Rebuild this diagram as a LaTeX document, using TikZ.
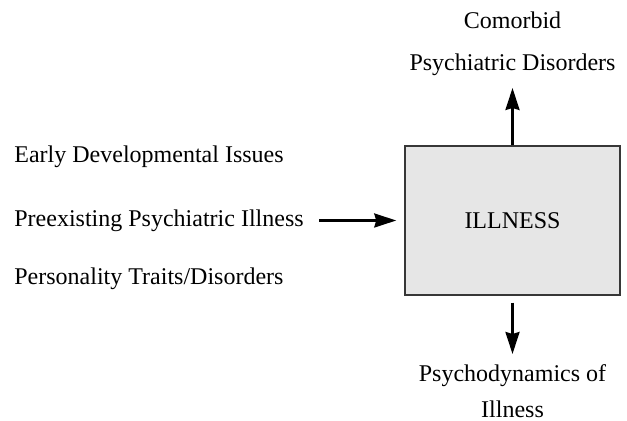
\documentclass[tikz,border=0pt]{standalone}
\usepackage{fontspec}
\setmainfont{Liberation Serif}
\usepackage{xcolor}
\usetikzlibrary{positioning,arrows.meta}
\definecolor{illFill}{RGB}{230,230,230}
\definecolor{illDraw}{RGB}{55,55,55}
\tikzset{
  dx/lbl/.style={font=\fontsize{12}{21}\selectfont, align=center, inner sep=0pt},
  dx/side/.style={dx/lbl, align=left, anchor=base west},
  dx/core/.style={draw=illDraw, fill=illFill, line width=0.75pt,
                  minimum width=107.5pt, minimum height=74.5pt, inner sep=0pt,
                  font=\fontsize{12}{14}\selectfont},
  dx/arrow/.style={-{Stealth[length=11pt,width=7pt,inset=1pt]}, line width=1.2pt, draw=black},
}

\begin{document}
\begin{tikzpicture}[x=0.5pt,y=-0.5pt]
  \useasboundingbox (0,0) rectangle (627,421);

  \node[dx/core] (illness) at (512.5,220.5) {ILLNESS};

  % ---------------- causes ----------------
  \node[dx/side] (early) at (14,163) {Early Developmental Issues};
  \node[dx/side] (preexisting) at (14,227) {Preexisting Psychiatric Illness};
  \node[dx/side] (personality) at (14,285) {Personality Traits/Disorders};

  % ---------------- outcomes ----------------
  \node[dx/lbl, anchor=south] (comorbid) at (illness.north |- 0,76)
    {Comorbid\\Psychiatric Disorders};
  \node[dx/lbl, font=\fontsize{12}{18}\selectfont, anchor=north] (dynamics)
    at (illness.south |- 0,364) {Psychodynamics of\\Illness};

  \draw[dx/arrow, shorten <=7.5pt, shorten >=4pt]
    (preexisting.east |- illness.west) -- (illness.west);
  \draw[dx/arrow, shorten >=6pt] (illness.north) -- (comorbid.south);
  \draw[dx/arrow, shorten <=3.5pt, shorten >=5pt] (illness.south) -- (dynamics.north);

\end{tikzpicture}
\end{document}
